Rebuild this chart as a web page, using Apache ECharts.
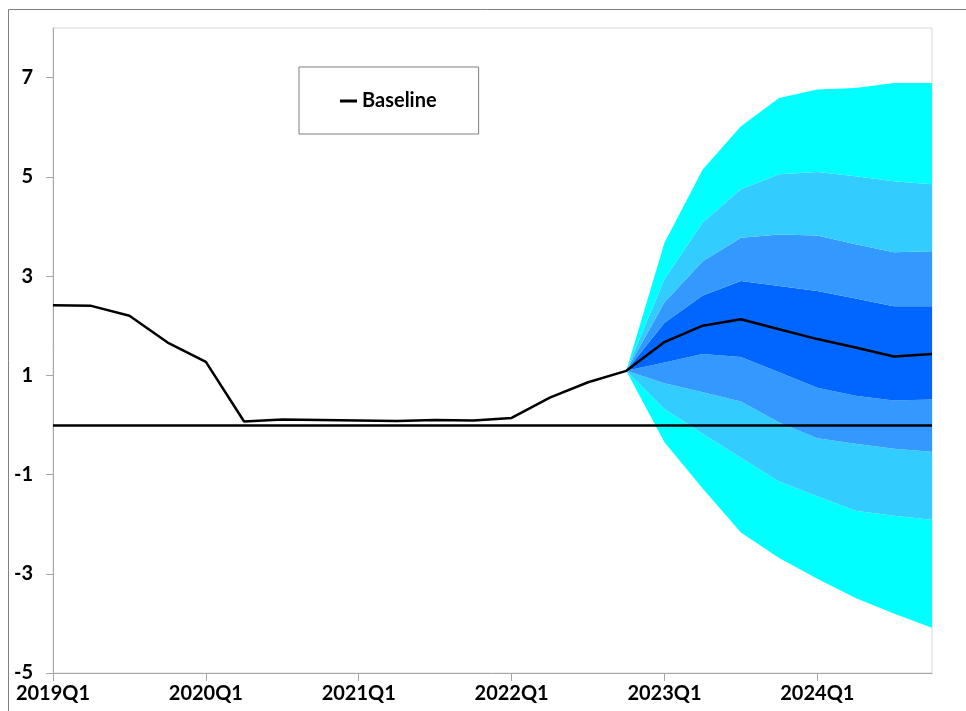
<!DOCTYPE html>
<html>
<head>
<meta charset="utf-8">
<script src="https://cdn.jsdelivr.net/npm/echarts@6/dist/echarts.min.js"></script>
<style>
  html, body { margin: 0; padding: 0; background: #fff; }
  #chart { width: 966px; height: 711px; }
</style>
</head>
<body>
<div id="chart"></div>
<script>
// Quarterly categories, 2019Q1 .. 2024Q4
const quarters = [
  '2019Q1','2019Q2','2019Q3','2019Q4',
  '2020Q1','2020Q2','2020Q3','2020Q4',
  '2021Q1','2021Q2','2021Q3','2021Q4',
  '2022Q1','2022Q2','2022Q3','2022Q4',
  '2023Q1','2023Q2','2023Q3','2023Q4',
  '2024Q1','2024Q2','2024Q3','2024Q4'
];

// Central projection
const baseline = [2.41, 2.40, 2.20, 1.66, 1.27, 0.07, 0.11, 0.10,
                  0.09, 0.08, 0.10, 0.09, 0.14, 0.55, 0.86, 1.09,
                  1.67, 2.00, 2.13, 1.93, 1.73, 1.56, 1.38, 1.43];

// Fan bands (history padded with nulls up to 2022Q4)
const pad = new Array(15).fill(null);
const cyanUpper  = pad.concat([1.09, 3.67, 5.15, 6.02, 6.59, 6.76, 6.79, 6.89, 6.89]);
const lightUpper = pad.concat([1.09, 2.94, 4.08, 4.75, 5.05, 5.10, 5.01, 4.91, 4.85]);
const midUpper   = pad.concat([1.09, 2.47, 3.30, 3.77, 3.84, 3.82, 3.64, 3.48, 3.50]);
const darkUpper  = pad.concat([1.09, 2.06, 2.61, 2.90, 2.80, 2.70, 2.55, 2.39, 2.39]);
const darkLower  = pad.concat([1.09, 1.26, 1.43, 1.37, 1.06, 0.75, 0.59, 0.49, 0.51]);
const midLower   = pad.concat([1.09, 0.84, 0.66, 0.47, 0.05, -0.27, -0.38, -0.48, -0.54]);
const lightLower = pad.concat([1.09, 0.32, -0.18, -0.66, -1.14, -1.44, -1.73, -1.83, -1.91]);
const cyanLower  = pad.concat([1.09, -0.35, -1.28, -2.17, -2.68, -3.10, -3.49, -3.80, -4.09]);

// Y axis tick labels
const yTicks = [-5, -3, -1, 1, 3, 5, 7];

const CYAN = '#00FFFF', LIGHT = '#33CCFF', MID = '#3399FF', DARK = '#0066FF';
const FONT = 'Lato';

function diff(a, b) {
  return a.map((v, i) => (v == null || b[i] == null) ? null : +(v - b[i]).toFixed(4));
}

function band(name, values, color) {
  return {
    name: name,
    type: 'line',
    stack: 'fan',
    stackStrategy: 'all',
    data: values,
    symbol: 'none',
    silent: true,
    lineStyle: { width: 0, opacity: 0 },
    areaStyle: { color: color, opacity: 1 },
    z: 1
  };
}

const chart = echarts.init(document.getElementById('chart'), null, { renderer: 'canvas' });

chart.setOption({
  animation: false,
  backgroundColor: '#fff',
  graphic: [{
    type: 'rect',
    shape: { x: 8.5, y: 9.5, width: 1200, height: 1200 },
    style: { fill: 'none', stroke: '#808080', lineWidth: 1 },
    silent: true,
    z: -10
  }],
  grid: {
    left: 53, right: 34, top: 28, bottom: 38,
    show: true,
    borderColor: '#d9d9d9',
    borderWidth: 1,
    backgroundColor: 'transparent'
  },
  legend: {
    data: ['Baseline'],
    left: 299,
    top: 67,
    padding: [24, 42, 23, 41],
    borderColor: '#7f7f7f',
    borderWidth: 1,
    backgroundColor: '#fff',
    icon: 'rect',
    itemWidth: 17,
    itemHeight: 3,
    selectedMode: false,
    textStyle: { fontFamily: FONT, fontWeight: 'bold', fontSize: 20, color: '#000' }
  },
  xAxis: {
    type: 'category',
    data: quarters,
    boundaryGap: false,
    axisLine: { show: true, onZero: false, lineStyle: { color: '#a6a6a6', width: 1 } },
    axisTick: { show: true, interval: 3, length: 8, lineStyle: { color: '#a6a6a6' } },
    axisLabel: {
      interval: 3, margin: 11,
      fontFamily: FONT, fontWeight: 'bold', fontSize: 20, color: '#000'
    },
    splitLine: { show: false }
  },
  yAxis: {
    type: 'value',
    min: -5,
    max: 8,
    axisLine: { show: true, lineStyle: { color: '#a6a6a6', width: 1 } },
    axisTick: { show: true, length: 7, customValues: yTicks, lineStyle: { color: '#a6a6a6' } },
    axisLabel: {
      customValues: yTicks, margin: 20,
      fontFamily: FONT, fontWeight: 'bold', fontSize: 20, color: '#000'
    },
    splitLine: { show: false }
  },
  series: [
    {
      name: 'fanBase',
      type: 'line',
      stack: 'fan',
      stackStrategy: 'all',
      data: cyanLower,
      symbol: 'none',
      silent: true,
      lineStyle: { width: 0, opacity: 0 },
      z: 1
    },
    band('cyanLow',  diff(lightLower, cyanLower), CYAN),
    band('lightLow', diff(midLower, lightLower), LIGHT),
    band('midLow',   diff(darkLower, midLower), MID),
    band('dark',     diff(darkUpper, darkLower), DARK),
    band('midHigh',  diff(midUpper, darkUpper), MID),
    band('lightHigh',diff(lightUpper, midUpper), LIGHT),
    band('cyanHigh', diff(cyanUpper, lightUpper), CYAN),
    {
      name: 'Baseline',
      type: 'line',
      data: baseline,
      symbol: 'none',
      color: '#000',
      lineStyle: { color: '#000', width: 2.5 },
      z: 5,
      markLine: {
        silent: true,
        symbol: 'none',
        label: { show: false },
        lineStyle: { color: '#000', width: 2.5, type: 'solid' },
        data: [{ yAxis: 0 }]
      }
    }
  ]
});
</script>
</body>
</html>
